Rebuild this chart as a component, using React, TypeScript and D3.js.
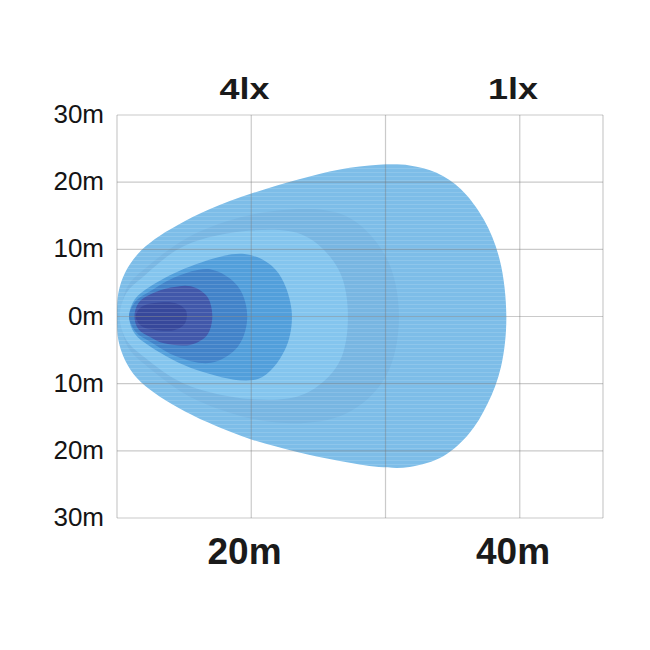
import React, { useEffect, useRef } from 'react';
import * as d3 from 'd3';

// distance along the beam (m) and lateral spread (m)
const xTicks = [10, 20, 30, 40];
const xEdge = 46.2;
const yTicks = [30, 20, 10, 0, -10, -20, -30];
const yTickLabels = ['30m', '20m', '10m', '0m', '10m', '20m', '30m'];
const bottomLabels = [{ at: 19.5, text: '20m' }, { at: 39.5, text: '40m' }];
const topLabels = [{ at: 19.5, text: '4lx' }, { at: 39.5, text: '1lx' }];

// isolux contours, outermost first: [distance, lateral]
const outer: [number, number][] = [
  [10, 0], [10.1, 3.5], [10.6, 6.5], [11.5, 9.2], [12.8, 11.5], [14.5, 13.6], [16.8, 15.9],
  [20, 18.3], [23.5, 20.4], [26.6, 21.9], [29.5, 22.6], [31.8, 22.5], [33.8, 21.4], [35.6, 19],
  [37.3, 14.5], [38.5, 8.5], [39, 0], [38.6, -7.5], [37.6, -13], [36.2, -17.5], [34.3, -20.8],
  [31.8, -22.4], [29.5, -22.4], [26.6, -21.5], [23.5, -20.2], [20, -18.3], [16.8, -15.8],
  [14.5, -13.5], [12.8, -11.4], [11.5, -9.2], [10.6, -6.5], [10.1, -3.5],
];
const ring2: [number, number][] = [
  [10.3, 0], [10.8, 4.5], [12.3, 7.5], [16, 12.5], [22, 15.8], [27, 15], [30, 9], [31, 0],
  [30, -9], [27, -14.5], [22, -15.8], [16, -12.5], [12.3, -7.5], [10.8, -4.5],
];
const ring3: [number, number][] = [
  [10.2, 0], [10.7, 3.5], [12, 6], [15, 10.5], [20, 12.8], [24, 12], [26.5, 7], [27.2, 0],
  [26.5, -7], [24, -11.5], [20, -12.3], [15, -10], [12, -6], [10.7, -3.5],
];
const ring4: [number, number][] = [
  [10.9, 0], [11.3, 2.5], [12.5, 4.5], [15.5, 7.5], [19.5, 9.3], [21.8, 7], [23, 1],
  [22.5, -5], [20.5, -9.3], [16, -8], [12.5, -4.5], [11.3, -2.5],
];
const ring5: [number, number][] = [
  [10.9, 0], [11.4, 2.3], [12.5, 3.8], [14.5, 6], [17, 7], [19, 4.5], [19.7, 0],
  [19, -4.5], [17, -6.9], [14.5, -6], [12.5, -3.8], [11.4, -2.3],
];
const ring6: [number, number][] = [
  [11.3, 0], [11.6, 2], [12.5, 3.3], [14, 4.3], [15.5, 4.5], [16.7, 3], [17.1, 0],
  [16.7, -2.8], [15.5, -4.2], [13.5, -4], [12.5, -3.1], [11.6, -1.9],
];
const ring7: [number, number][] = [
  [11.4, 0], [11.8, 1.4], [12.8, 2], [14.3, 2], [15.1, 1], [15.2, 0], [15, -1.2], [14.3, -2], [12.8, -2], [11.8, -1.4],
];

const contours = [outer, ring2, ring3, ring4, ring5, ring6, ring7];
const contourColors = ['#7dbde8', '#78b6e2', '#84c5ee', '#529fdb', '#4283c9', '#4158aa', '#37489b'];

const App = () => {
  const svgRef = useRef<SVGSVGElement>(null);

  useEffect(() => {
    const svg = d3.select(svgRef.current);
    svg.selectAll('*').remove();

    const width = 650;
    const height = 650;
    const margin = { top: 115, right: 47, bottom: 132, left: 117 };

    const x = d3.scaleLinear().domain([10, xEdge]).range([margin.left, width - margin.right]);
    const y = d3.scaleLinear().domain([-30, 30]).range([height - margin.bottom, margin.top]);

    const area = d3.line<[number, number]>()
      .x(d => x(d[0]))
      .y(d => y(d[1]))
      .curve(d3.curveCatmullRomClosed.alpha(0.5));

    // faint horizontal scanlines like the printed original
    const defs = svg.append('defs');
    const pat = defs.append('pattern')
      .attr('id', 'scan')
      .attr('patternUnits', 'userSpaceOnUse')
      .attr('width', 8)
      .attr('height', 4);
    pat.append('rect').attr('width', 8).attr('height', 1).attr('fill', '#fff').attr('opacity', 0.13);

    svg.append('g')
      .selectAll('path')
      .data(contours)
      .join('path')
      .attr('d', d => area(d))
      .attr('fill', (d, i) => contourColors[i]);

    svg.append('path')
      .attr('d', area(outer))
      .attr('fill', 'url(#scan)');

    // grid on top, faint
    const grid = svg.append('g')
      .attr('stroke', '#7a7a7a')
      .attr('stroke-opacity', 0.4)
      .attr('stroke-width', 1.2);

    grid.selectAll('line.v')
      .data([...xTicks, xEdge])
      .join('line')
      .attr('class', 'v')
      .attr('x1', d => x(d))
      .attr('x2', d => x(d))
      .attr('y1', y(30))
      .attr('y2', y(-30));

    grid.selectAll('line.h')
      .data(yTicks)
      .join('line')
      .attr('class', 'h')
      .attr('x1', x(10))
      .attr('x2', x(xEdge))
      .attr('y1', d => y(d))
      .attr('y2', d => y(d));

    svg.append('g')
      .selectAll('text')
      .data(yTicks)
      .join('text')
      .attr('x', 104)
      .attr('y', d => y(d) + 8)
      .attr('text-anchor', 'end')
      .attr('font-family', 'Liberation Sans, Arial, sans-serif')
      .attr('font-size', 26)
      .attr('fill', '#141414')
      .text((d, i) => yTickLabels[i]);

    svg.append('g')
      .selectAll('text')
      .data(bottomLabels)
      .join('text')
      .attr('x', d => x(d.at))
      .attr('y', 564)
      .attr('text-anchor', 'middle')
      .attr('font-family', 'Liberation Sans, Arial, sans-serif')
      .attr('font-weight', 'bold')
      .attr('font-size', 37)
      .attr('fill', '#1a1a1a')
      .text(d => d.text);

    svg.append('g')
      .selectAll('text')
      .data(topLabels)
      .join('text')
      .attr('x', d => x(d.at) - 25)
      .attr('y', 99)
      .attr('font-family', 'Liberation Sans, Arial, sans-serif')
      .attr('font-weight', 'bold')
      .attr('font-size', 29)
      .attr('textLength', 50)
      .attr('lengthAdjust', 'spacingAndGlyphs')
      .attr('fill', '#1a1a1a')
      .text(d => d.text);
  }, []);

  return (
    <svg
      ref={svgRef}
      width="650"
      height="650"
      style={{ position: 'absolute', left: 0, top: 0, background: '#fff' }}
    ></svg>
  );
};

export default App;
